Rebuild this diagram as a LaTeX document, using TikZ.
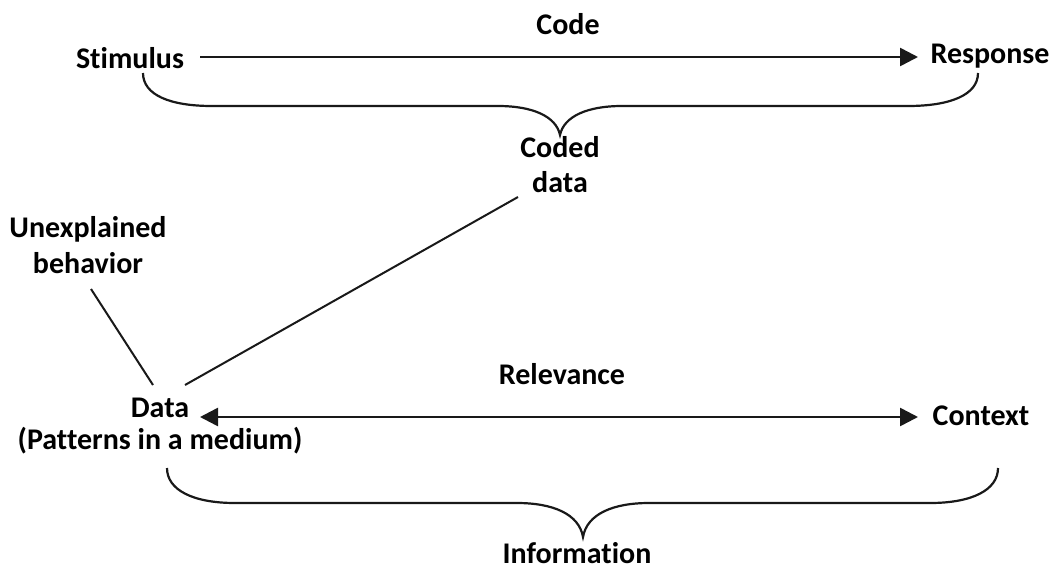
\documentclass[tikz,border=0pt]{standalone}
\usepackage{fontspec}
\setmainfont{Carlito}[Ligatures=NoCommon]
\usetikzlibrary{arrows.meta}
\begin{document}
\begin{tikzpicture}[x=1pt,y=-1pt,
  lbl/.style={font=\fontsize{30}{35}\selectfont\bfseries, inner sep=0pt, anchor=base, text depth=0pt},
  conn/.style={line width=2.6pt, draw=black!90},
  arr/.style={conn, -{Triangle[length=18pt,width=18pt]}},
  darr/.style={conn, {Triangle[length=18pt,width=18pt]}-{Triangle[length=18pt,width=18pt]}},
  thin/.style={line width=2pt, draw=black!90},
  brace/.style={line width=2.2pt, draw=black!90}]
\useasboundingbox (0,0) rectangle (1054,570);
\fill[white] (0,0) rectangle (1054,570);

\node[lbl] (code) at (568,34) {Code};
\node[lbl] (stim) at (130,68) {Stimulus};
\node[lbl] (resp) at (990,63) {Response};
\node[lbl] (coded) at (560,157) {Coded};
\node[lbl] (cdata) at (560,192) {data};
\node[lbl] (unexp) at (88,237) {Unexplained};
\node[lbl] (behav) at (88,273) {behavior};
\node[lbl] (relev) at (562,384) {Relevance};
\node[lbl] (data) at (160,417) {Data};
\node[lbl] (patt) at (160,449) {(Patterns in a medium)};
\node[lbl] (ctx) at (981,425) {Context};
\node[lbl] (info) at (577,563) {Information};

\coordinate (aL) at (200,57);
\coordinate (aR) at (918,57);
\draw[arr] (aL) -- (aR);
\coordinate (bL) at (200,417);
\coordinate (bR) at (918,417);
\draw[darr] (bL) -- (bR);

\coordinate (c1) at (518,197);
\coordinate (c2) at (185,385);
\draw[thin] (c1) -- (c2);
\coordinate (u1) at (91,289);
\coordinate (u2) at (153,385);
\draw[thin] (u1) -- (u2);

% top brace
\draw[brace] (143,73) .. controls (143,95) and (170,106) .. (212,106)
  -- (498,106) .. controls (532,106) and (556,116) .. (560,135)
  .. controls (564,116) and (588,106) .. (622,106)
  -- (908,106) .. controls (950,106) and (978,95) .. (978,73);
% bottom brace
\draw[brace] (167,468) .. controls (167,490) and (193,503) .. (235,503)
  -- (517,503) .. controls (553,503) and (579,514) .. (583,537)
  .. controls (587,514) and (613,503) .. (649,503)
  -- (930,503) .. controls (972,503) and (998,490) .. (998,468);
\end{tikzpicture}
\end{document}
